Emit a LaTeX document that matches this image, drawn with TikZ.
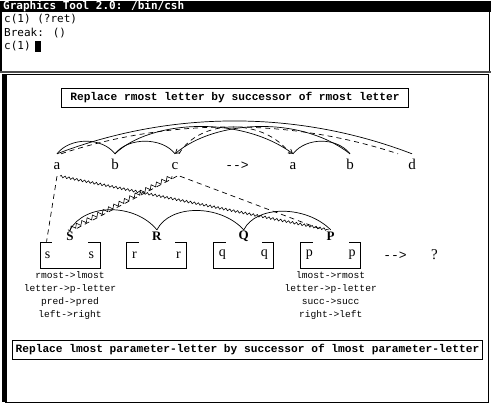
\documentclass[tikz,border=0pt]{standalone}
\usepackage{fontspec}
\setmainfont{Liberation Serif}
\setmonofont{Liberation Mono}
\newfontfamily\termfont{DejaVu Sans Mono}
\usetikzlibrary{positioning,arrows.meta,calc,decorations.pathmorphing}

\tikzset{
  term/.style = {font=\termfont\fontsize{11}{11}\selectfont, inner sep=0pt, anchor=west},
  rulebox/.style = {draw, line width=0.9pt, font=\ttfamily\bfseries\fontsize{11.2}{12}\selectfont, inner ysep=4pt},
  letter/.style = {font=\fontsize{15}{15}\selectfont, text height=10pt, text depth=2pt, inner sep=0pt, minimum height=22pt},
  grp/.style = {font=\bfseries\fontsize{13}{13}\selectfont, fill=white, minimum width=36pt, minimum height=13pt, inner sep=0pt},
  pbox/.style = {draw, line width=0.9pt, minimum width=60pt, minimum height=26pt},
  inbox/.style = {font=\fontsize{14}{14}\selectfont, inner sep=0pt},
  note/.style = {font=\ttfamily\fontsize{9.6}{13}\selectfont, align=center, anchor=north, inner sep=0pt},
  bond/.style = {line width=0.7pt},
  link/.style = {line width=0.7pt, dash pattern=on 5pt off 4pt},
  zz/.style = {line width=0.6pt, decorate, decoration={zigzag, segment length=5pt, amplitude=1.5pt}},
  tip/.style = {-{Straight Barb[length=4pt, width=5pt]}},
}

\begin{document}
\begin{tikzpicture}[x=1pt, y=-1pt]
\useasboundingbox (0,0) rectangle (491,405);
% window title and shell
\fill (0,1) rectangle (491,12);
\node[term, text=white, font=\termfont\bfseries\fontsize{11}{11}\selectfont] (title) at (3,6.5) {Graphics Tool 2.0: /bin/csh};
\draw[line width=2pt] (1,12) -- (1,72);
\draw[line width=1pt] (489.5,12) -- (489.5,72);
\draw[line width=2pt, black!70] (0,72) -- (491,72);
\node[term] (ln1) at (4,19.5) {c(1) (?ret)};
\node[term] (ln2) at (4,33) {Break: ()};
\node[term] (ln3) at (4,46.5) {c(1)};
\node[fill, minimum width=6pt, minimum height=11pt, inner sep=0pt, right=4pt of ln3] (cursor) {};
% panel
\draw[line width=1pt] (5,74) rectangle (488,402);
\fill (2,74) rectangle (7,402);
% rules
\node[rulebox, inner xsep=9pt] (rtop) at (235,98) {Replace rmost letter by successor of rmost letter};
\node[rulebox, inner xsep=3pt] (rbot) at (247.5,350) {Replace lmost parameter-letter by successor of lmost parameter-letter};
% strings
\node[letter] (a1) at (57,165) {a};
\node[letter] (b1) at (115,165) {b};
\node[letter] (c1) at (175,165) {c};
\node[letter, font=\ttfamily\fontsize{13}{13}\selectfont] (to1) at (237,165) {-{}->};
\node[letter] (a2) at (293,165) {a};
\node[letter] (b2) at (350,165) {b};
\node[letter] (d2) at (412,165) {d};
% bonds and correspondences
\draw[bond] (a1.north) .. controls (70,137) and (102,137) .. (b1.north);
\draw[bond] (b1.north) .. controls (128,137) and (162,137) .. (c1.north);
\draw[bond] (a2.north) .. controls (306,137) and (337,137) .. (b2.north);
\draw[bond] (a1.north) .. controls (171,110) and (298,110) .. (d2.north);
\draw[link] ([xshift=4pt]a1.north) .. controls (170,118) and (290,118) .. ([xshift=-14pt]d2.north);
\draw[bond, tip] (b1.north) .. controls (150,120) and (240,115) .. (a2.north);
\draw[bond, tip] (b2.north) .. controls (300,115) and (215,120) .. (c1.north);
\draw[link] ([xshift=4pt]c1.north) .. controls (200,118) and (265,118) .. ([xshift=-3pt]a2.north);
% parameter boxes
\node[pbox] (bs) at (70,255) {};
\node[pbox, right=26pt of bs] (br) {};
\node[pbox, right=26pt of br] (bq) {};
\node[pbox, right=26pt of bq] (bp) {};
\node[inbox] (s1) at ($(bs.west)+(8,0)$) {s};
\node[inbox] (s2) at ($(bs.east)-(9,0)$) {s};
\node[inbox] (r1) at ($(br.west)+(8,0)$) {r};
\node[inbox] (r2) at ($(br.east)-(9,0)$) {r};
\node[inbox] (q1) at ($(bq.west)+(9,0)$) {q};
\node[inbox] (q2) at ($(bq.east)-(10,0)$) {q};
\node[inbox] (p1) at ($(bp.west)+(9,0)$) {p};
\node[inbox] (p2) at ($(bp.east)-(9,0)$) {p};
\node[grp] (S) at ([yshift=5pt]bs.north) {S};
\node[grp] (R) at ([yshift=5pt]br.north) {R};
\node[grp] (Q) at ([yshift=5pt]bq.north) {Q};
\node[grp] (P) at ([yshift=5pt]bp.north) {P};
\node[letter, font=\ttfamily\fontsize{13}{13}\selectfont, right=22pt of bp] (to2) {-{}->};
\node[letter, right=24pt of to2] (ans) {?};
% group bonds
\draw[bond] (S.north) .. controls (85,203) and (135,203) .. (R.north);
\draw[bond] (R.north) .. controls (170,204) and (220,204) .. (Q.north);
\draw[bond] (Q.north) .. controls (256,205) and (306,205) .. (P.north);
% links down to the parameters
\draw[link] (a1.south) -- ([xshift=7pt]bs.north west);
\draw[zz, decoration={amplitude=1.1pt, segment length=4pt}] ([xshift=3pt]a1.south) -- ([xshift=-2pt]P.north);
\draw[zz, decoration={amplitude=2pt, segment length=6pt}] ([xshift=-3pt]c1.south) -- ([xshift=-2pt]S.north);
\draw[link] ([xshift=2pt]c1.south) -- ([xshift=4pt]S.north);
\draw[link] ([xshift=5pt]c1.south) -- ([xshift=-8pt]P.north);
% translations
\node[note] (ns) at ([yshift=-3pt]bs.south) {rmost->lmost\\letter->p-letter\\pred->pred\\left->right};
\node[note] (np) at ([yshift=-3pt]bp.south) {lmost->rmost\\letter->p-letter\\succ->succ\\right->left};
\end{tikzpicture}
\end{document}
